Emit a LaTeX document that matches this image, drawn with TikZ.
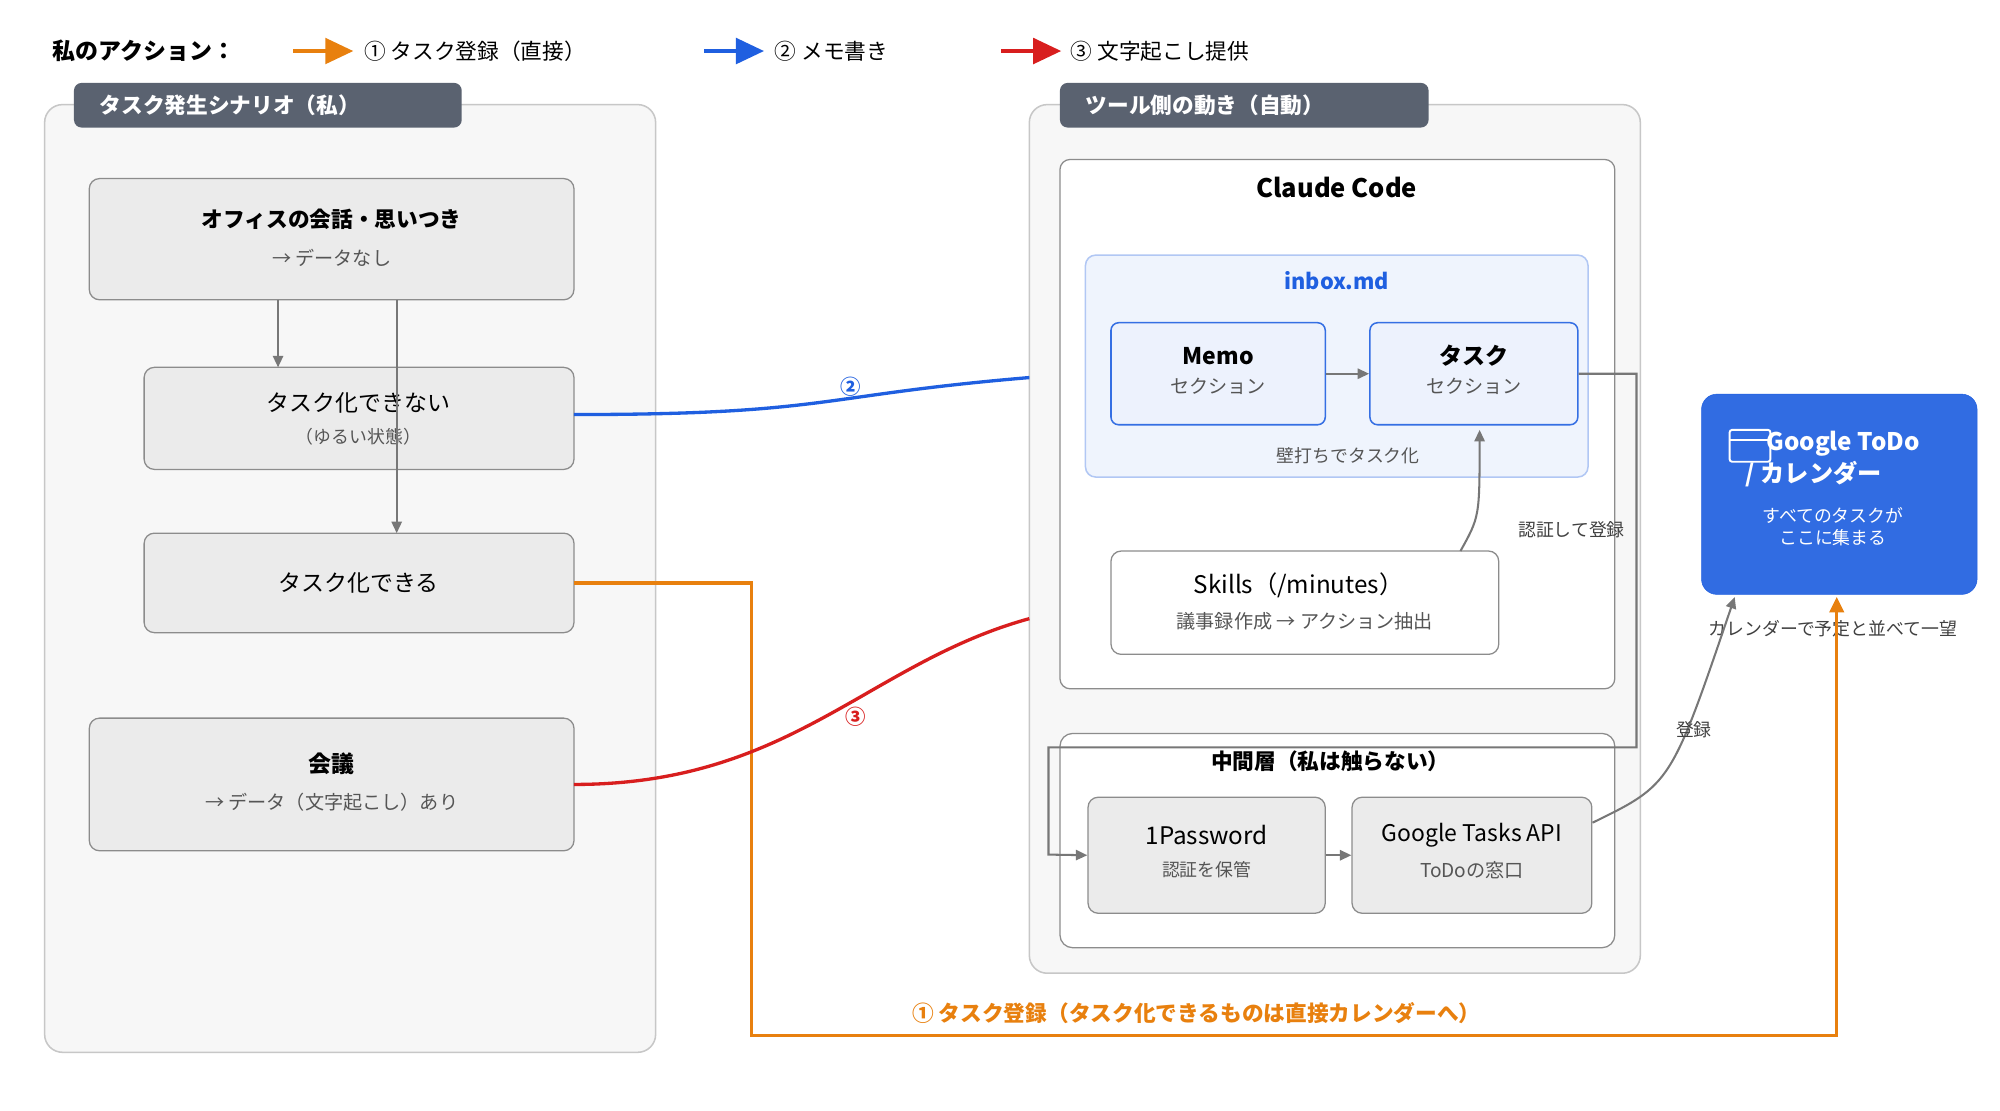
\documentclass[tikz,border=0pt]{standalone}
\usepackage{fontspec}
\setmainfont{Noto Sans CJK JP}
\usetikzlibrary{arrows.meta}
\definecolor{cor}{HTML}{E8800E}
\definecolor{cbl}{HTML}{1F5FE0}
\definecolor{cre}{HTML}{D81E1E}
\definecolor{gln}{HTML}{777777}
\definecolor{tabc}{HTML}{5A6270}
\definecolor{gtxt}{HTML}{555555}
\tikzset{
 panel/.style={draw=black!22,line width=1.2pt,fill=black!3,rounded corners=14pt},
 tabn/.style={fill=tabc,rounded corners=6pt,text=white,font=\bfseries\fontsize{17}{19}\selectfont,anchor=west,inner xsep=20pt},
 gbox/.style={draw=black!45,line width=1pt,fill=black!8,rounded corners=8pt},
 wbox/.style={draw=black!45,line width=1pt,fill=white,rounded corners=8pt},
 bbox/.style={draw=cbl!90,line width=1.2pt,fill=cbl!8,rounded corners=6pt},
 ttl/.style={font=\bfseries\fontsize{17}{19}\selectfont},
 ttn/.style={font=\fontsize{17}{19}\selectfont},
 sub/.style={font=\fontsize{14}{16}\selectfont,text=gtxt},
 garr/.style={draw=gln,line width=1.6pt,-{Triangle[length=9pt,width=8pt]}},
 carr/.style={line width=2.6pt},
 legar/.style={line width=3pt,-{Triangle[length=22pt,width=20pt]}}
}
\begin{document}
\begin{tikzpicture}[x=1pt,y=-1pt]
\useasboundingbox[fill=white] (0,0) rectangle (1568,871);
% legend
\node[anchor=west,font=\bfseries\fontsize{18}{20}\selectfont] (lg) at (38,40) {私のアクション：};
\coordinate (lo1) at (230,40); \coordinate (lo2) at (277,40);
\draw[legar,cor] (lo1) -- (lo2);
\node[anchor=west,font=\fontsize{17}{19}\selectfont] (lot) at (282,40) {① タスク登録（直接）};
\coordinate (lb1) at (552,40); \coordinate (lb2) at (599,40);
\draw[legar,cbl] (lb1) -- (lb2);
\node[anchor=west,font=\fontsize{17}{19}\selectfont] (lbt) at (604,40) {② メモ書き};
\coordinate (lr1) at (785,40); \coordinate (lr2) at (832,40);
\draw[legar,cre] (lr1) -- (lr2);
\node[anchor=west,font=\fontsize{17}{19}\selectfont] (lrt) at (836,40) {③ 文字起こし提供};
% left panel
\draw[panel] (35,82) rectangle (514,825);
\fill[tabc,rounded corners=6pt] (58,65) rectangle (362,100);
\node[tabn] (lt) at (58,82.5) {タスク発生シナリオ（私）};
\draw[gbox] (70,140) rectangle (450,235);
\node[ttl] (b1t) at (260,172) {オフィスの会話・思いつき};
\node[sub,font=\fontsize{15}{17}\selectfont] (b1s) at (260,202) {→ データなし};
\draw[gbox] (113,288) rectangle (450,368);
\node[ttn,font=\fontsize{18}{20}\selectfont] (b2t) at (281,316) {タスク化できない};
\node[sub] (b2s) at (281,342) {（ゆるい状態）};
\draw[gbox] (113,418) rectangle (450,496);
\node[ttn,font=\fontsize{18}{20}\selectfont] (b3t) at (281,457) {タスク化できる};
\draw[gbox] (70,563) rectangle (450,667);
\node[ttl,font=\bfseries\fontsize{18}{20}\selectfont] (b4t) at (260,599) {会議};
\node[sub,font=\fontsize{15}{17}\selectfont] (b4s) at (260,629) {→ データ（文字起こし）あり};
\coordinate (a1s) at (218,235); \coordinate (a1e) at (218,288);
\coordinate (a2s) at (311,235); \coordinate (a2e) at (311,418);
\draw[garr] (a1s) -- (a1e);
\draw[garr] (a2s) -- (a2e);
% right panel
\draw[panel] (807,82) rectangle (1286,763);
\fill[tabc,rounded corners=6pt] (831,65) rectangle (1120,100);
\node[tabn] (rt) at (831,82.5) {ツール側の動き（自動）};
\draw[wbox] (831,125) rectangle (1266,540);
\node[font=\bfseries\fontsize{20}{22}\selectfont] (cc) at (1048,147) {Claude Code};
\draw[draw=cbl!35,line width=1.2pt,fill=cbl!7,rounded corners=8pt] (851,200) rectangle (1245,374);
\node[font=\bfseries\fontsize{17}{19}\selectfont,text=cbl] (ib) at (1048,220) {inbox.md};
\node[bbox,minimum width=168,minimum height=80] (memo) at (955,293) {};
\node[ttl,font=\bfseries\fontsize{18}{20}\selectfont] at (955,279) {Memo};
\node[sub,font=\fontsize{15}{17}\selectfont] at (955,303) {セクション};
\node[bbox,minimum width=163,minimum height=80] (task) at (1155.5,293) {};
\node[ttl,font=\bfseries\fontsize{18}{20}\selectfont] at (1155.5,279) {タスク};
\node[sub,font=\fontsize{15}{17}\selectfont] at (1155.5,303) {セクション};
\draw[garr] (memo) -- (task);
\node[sub] (kb) at (1057,357) {壁打ちでタスク化};
\node[wbox,minimum width=304,minimum height=81] (sk) at (1023,472.5) {};
\node[ttn,font=\fontsize{19}{21}\selectfont] at (1018,459) {Skills（/minutes）};
\node[sub,font=\fontsize{15}{17}\selectfont] at (1023,487) {議事録作成 → アクション抽出};
\coordinate (sks) at (1145,432); \coordinate (ske) at (1160,337);
\draw[garr] (sks) .. controls (1160,405) .. (ske);
\node[sub,text=black!75] (nk) at (1232,415) {認証して登録};
\draw[wbox,rounded corners=10pt] (831,575) rectangle (1266,743);
\node[ttl] (mid) at (1043,597) {中間層（私は触らない）};
\node[gbox,minimum width=186,minimum height=91] (op) at (946,670.5) {};
\node[ttn,font=\fontsize{19}{21}\selectfont] at (946,655) {1Password};
\node[sub] at (946,682) {認証を保管};
\node[gbox,minimum width=188,minimum height=91] (gta) at (1154,670.5) {};
\node[ttn,font=\fontsize{18}{20}\selectfont] at (1154,655) {Google Tasks API};
\node[sub,font=\fontsize{15}{17}\selectfont] at (1154,682) {ToDoの窓口};
\draw[garr] (op) -- (gta);
\draw[garr,rounded corners=0] (task.east) -- (1283,293) -- (1283,586) -- (822,586) -- (822,670) -- (op.west);
% google todo
\node[draw=cbl,fill=cbl!92!white,rounded corners=12pt,minimum width=216,minimum height=157] (gt) at (1442,387.5) {};
\draw[white,line width=1.5pt,rounded corners=2pt] (1356,337) rectangle (1388,362);
\draw[white,line width=1.5pt] (1356,345) -- (1388,345);
\node[text=white,font=\bfseries\fontsize{19}{21}\selectfont] at (1445,348) {Google ToDo};
\node[text=white,font=\bfseries\fontsize{19}{21}\selectfont] at (1422,372) {/ カレンダー};
\node[text=white,font=\fontsize{14}{17}\selectfont,align=center] at (1437,413) {すべてのタスクが\\ここに集まる};
\node[sub,text=black!75] (cal) at (1437,493) {カレンダーで予定と並べて一望};
\coordinate (gte) at (1360,468);
\draw[garr] (gta.east |- 1250,645) .. controls (1310,615) .. (gte);
\node[sub,text=black!75] (tr) at (1328,572) {登録};
% colored connectors
\coordinate (oc) at (1440,468);
\draw[carr,cor,-{Triangle[length=12pt,width=11pt]}] (450,457) -- (589,457) -- (589,812) -- (1440,812) -- (oc);
\node[text=cor,font=\bfseries\fontsize{17}{19}\selectfont] (ol) at (938,794) {① タスク登録（タスク化できるものは直接カレンダーへ）};
\coordinate (bs) at (450,325); \coordinate (be) at (807,296);
\draw[carr,cbl] (bs) .. controls (650,325) and (640,310) .. (be);
\node[text=cbl,font=\bfseries\fontsize{16}{18}\selectfont] (bl) at (667,303) {②};
\coordinate (rs) at (450,615); \coordinate (re) at (807,485);
\draw[carr,cre] (rs) .. controls (620,615) and (680,520) .. (re);
\node[text=cre,font=\bfseries\fontsize{16}{18}\selectfont] (rl) at (671,562) {③};
\end{tikzpicture}
\end{document}
